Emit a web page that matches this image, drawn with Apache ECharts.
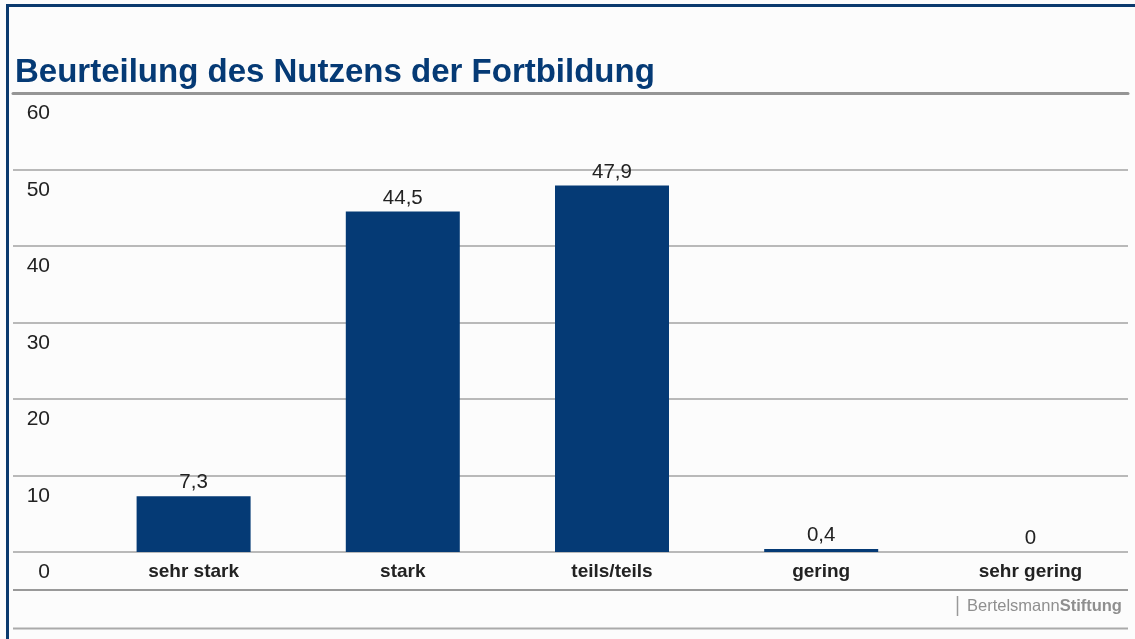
<!DOCTYPE html>
<html>
<head>
<meta charset="utf-8">
<script src="https://cdn.jsdelivr.net/npm/echarts@6/dist/echarts.min.js"></script>
<style>
  html, body { margin: 0; padding: 0; background: #fcfcfc; }
  #div_chart { width: 1135px; height: 639px; }
</style>
</head>
<body>
<div id="div_chart"></div>
<script>
"use strict";

// data
const categories = ["sehr stark", "stark", "teils/teils", "gering", "sehr gering"];
const values = [7.3, 44.5, 47.9, 0.4, 0];
const y_ticks = [0, 10, 20, 30, 40, 50, 60];
const title_text = "Beurteilung des Nutzens der Fortbildung";

const col_blue = "#053a75";
const col_grid = "#a3a3a3";
const col_text = "#222222";
const font = "'Liberation Sans', Arial, sans-serif";

const html_div_chart = document.getElementById("div_chart");
const chart = echarts.init(html_div_chart);

chart.setOption({
  animation: false,
  backgroundColor: "#fcfcfc",
  title: {
    text: title_text,
    left: 10,
    top: 51,
    textStyle: { fontFamily: font, fontSize: 33, fontWeight: "bold", color: col_blue },
  },
  grid: [
    // grid 0 carries the horizontal lines and y labels
    { left: 13, right: 7, top: 93, bottom: 87 },
    // grid 1 carries the bars and category labels
    { left: 89, width: 1050, top: 93, bottom: 87 },
  ],
  xAxis: [
    {
      gridIndex: 0, type: "category", position: "top", data: categories,
      axisLine: { show: true, onZero: false, lineStyle: { color: "#959595", width: 3 } },
      axisTick: { show: false }, axisLabel: { show: false }, splitLine: { show: false },
      z: 5,
    },
    {
      gridIndex: 1, type: "category", data: categories,
      axisLine: { show: false }, axisTick: { show: false },
      axisLabel: {
        margin: 10, fontFamily: font, fontSize: 19, fontWeight: "bold", color: col_text,
      },
    },
  ],
  yAxis: [
    {
      gridIndex: 0, type: "value", min: y_ticks[0], max: y_ticks[y_ticks.length - 1], interval: 10,
      axisLine: { show: false }, axisTick: { show: false },
      splitLine: { show: true, lineStyle: { color: col_grid, width: 1.5 } },
      axisLabel: {
        inside: true, align: "right", margin: 37, verticalAlign: "top", padding: [10, 0, 0, 0],
        fontFamily: font, fontSize: 21, color: col_text,
      },
    },
    {
      gridIndex: 1, type: "value", min: 0, max: 60, show: false,
    },
  ],
  series: [
    {
      type: "bar",
      xAxisIndex: 1,
      yAxisIndex: 1,
      data: values,
      barWidth: 114,
      itemStyle: { color: col_blue },
      label: {
        show: true, position: "top", distance: 3,
        fontFamily: font, fontSize: 20.5, color: col_text,
        formatter: (p) => String(p.value).replace(".", ","),
      },
    },
  ],
  graphic: [
    // frame on the left and top
    { type: "line", shape: { x1: 7.5, y1: 5, x2: 7.5, y2: 639 }, style: { stroke: "#0b3a6e", lineWidth: 3 } },
    { type: "line", shape: { x1: 6, y1: 5.5, x2: 1135, y2: 5.5 }, style: { stroke: "#0b3a6e", lineWidth: 3 } },
    // lines below the category labels
    { type: "line", shape: { x1: 13, y1: 590, x2: 1128, y2: 590 }, style: { stroke: "#999999", lineWidth: 2 } },
    { type: "line", shape: { x1: 13, y1: 628.5, x2: 1128, y2: 628.5 }, style: { stroke: "#aaaaaa", lineWidth: 2 } },
    // logo text
    { type: "line", shape: { x1: 957.5, y1: 596, x2: 957.5, y2: 616 }, style: { stroke: "#999999", lineWidth: 1.5 } },
    {
      type: "text", left: 967, top: 598,
      style: {
        text: "{a|Bertelsmann}{b|Stiftung}",
        fill: "#8f8f8f",
        rich: {
          a: { fontFamily: font, fontSize: 16.5, fill: "#8f8f8f" },
          b: { fontFamily: font, fontSize: 16.5, fontWeight: "bold", fill: "#8f8f8f" },
        },
      },
    },
  ],
});
</script>
</body>
</html>
